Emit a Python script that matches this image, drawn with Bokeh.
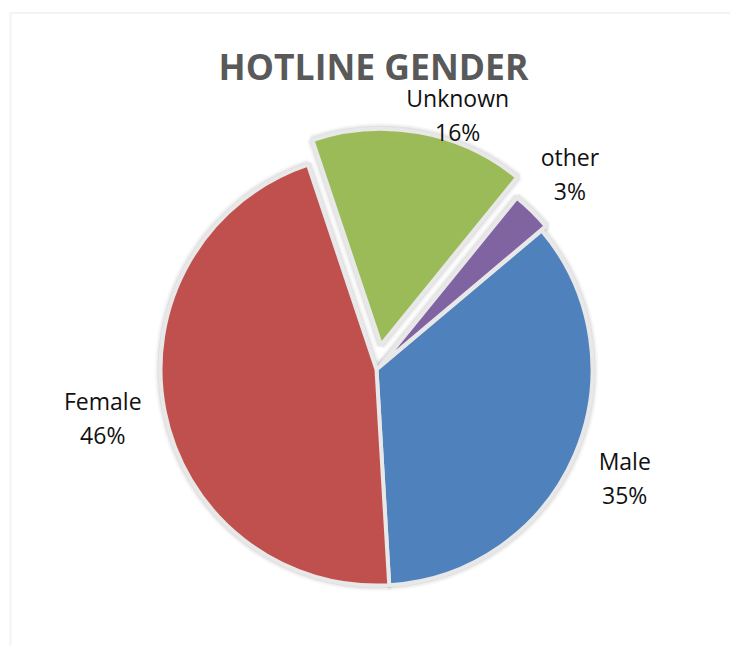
import numpy as np
from bokeh.plotting import figure
from bokeh.models import ColumnDataSource, BoxAnnotation
from bokeh.core.properties import value
from bokeh.embed import file_html
from bokeh.resources import INLINE

# ---- data ----
categories = ["Male", "Female", "Unknown", "other"]
shares = [35.2, 45.8, 16.0, 3.0]
colors = ["#4F81BD", "#C0504D", "#9BBB59", "#8064A2"]
title_text = "HOTLINE GENDER"

# ---- layout / style ----
W, H = 730, 646
first_angle = 49.9          # degrees clockwise from 12 o'clock
cx, cy, R = 376, 277, 216   # pie centre & radius in figure pixels
explode = {"Male": 0, "Female": 0, "Unknown": 25, "other": 6}
label_r = {"Male": 271, "Female": 278, "Unknown": 267, "other": 275}
label_nudge = {"Male": 0.4, "Female": 0.9, "Unknown": 7.4, "other": 0.2}

vals = np.array(shares, dtype=float)
span = vals / vals.sum() * 360.0
theta_e = first_angle + np.cumsum(span)
theta_s = theta_e - span
theta_m = (theta_s + theta_e) / 2.0

d = np.array([explode[c] for c in categories])
xs = cx + d * np.sin(np.radians(theta_m))
ys = cy + d * np.cos(np.radians(theta_m))

src = ColumnDataSource(dict(
    x=xs, y=ys, color=colors, cat=categories,
    start=np.radians(90 - theta_s), end=np.radians(90 - theta_e),
))

lr = np.array([label_r[c] for c in categories])
ln = np.array([label_nudge[c] for c in categories])
lx = cx + lr * np.sin(np.radians(theta_m + ln))
ly = cy + lr * np.cos(np.radians(theta_m + ln))
labels = [f"{c}\n{round(v)}%" for c, v in zip(categories, vals / vals.sum() * 100)]
lsrc = ColumnDataSource(dict(x=lx, y=ly, text=labels))

p = figure(width=W, height=H, x_range=(0, W), y_range=(0, H),
           output_backend="svg", toolbar_location=None,
           x_axis_location=None, y_axis_location=None,
           min_border=0, outline_line_color=None)
p.grid.visible = False
p.background_fill_color = "white"

# chart frame (left & top edges visible)
p.add_layout(BoxAnnotation(left=10, right=W + 50, top=633.5, bottom=-50,
                           fill_color=None, line_color="#D6D6D6", line_width=2))

# soft shadow
for lw, a in [(12, 0.025), (9, 0.04), (6, 0.06)]:
    p.wedge(x="x", y="y", radius=R, start_angle="start", end_angle="end",
            direction="clock", source=src, fill_color="#000000", fill_alpha=a,
            line_color="#000000", line_alpha=a, line_width=lw)

p.wedge(x="x", y="y", radius=R, start_angle="start", end_angle="end",
        direction="clock", source=src, fill_color="color",
        line_color="#E8E8E8", line_width=4)

p.text(x="x", y="y", text="text", source=lsrc, text_align="center",
       text_baseline="middle", text_font=value("Open Sans"),
       text_font_size="23px", text_color="#111111", text_line_height=1.05)

p.text(x=[373], y=[581], text=[title_text], text_align="center",
       text_baseline="alphabetic", text_font=value("Open Sans"),
       text_font_style="bold", text_font_size="35.5px", text_color="#595959")

open("out.html", "w").write(file_html(p, INLINE))
